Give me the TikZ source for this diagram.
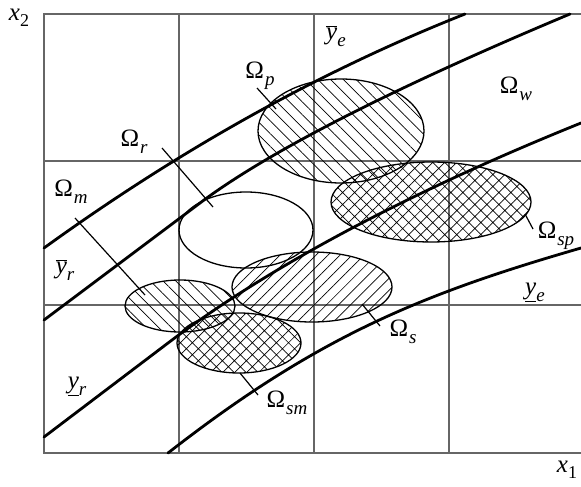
\documentclass[tikz,border=0pt]{standalone}
\usepackage{fontspec}
\setmainfont{Liberation Serif}
\usetikzlibrary{patterns.meta}
\newcommand{\subl}[1]{\raisebox{-7pt}{\fontsize{19}{22}\selectfont\itshape #1}}
\newcommand{\subn}[1]{\raisebox{-6pt}{\fontsize{18}{22}\selectfont #1}}
\newcommand{\Om}[1]{Ω\kern1pt\subl{#1}}
\newcommand{\ybar}{$\overline{\hbox{\itshape y}}$}
\newcommand{\yund}{\underline{\itshape y}}
\begin{document}
\begin{tikzpicture}[x=1pt,y=-1pt,
  grid/.style={draw=black!60, line width=1.2pt},
  curve/.style={line width=2.8pt, line cap=round},
  region/.style={line width=1.3pt},
  lbl/.style={inner sep=0pt, font=\fontsize{25}{28}\selectfont},
  leader/.style={line width=1.2pt},
  backhatch/.style={pattern={Lines[angle=-45,distance=9pt,line width=0.7pt]}},
  fwdhatch/.style={pattern={Lines[angle=45,distance=8.5pt,line width=0.7pt]}},
  crosshatch/.style={pattern={Hatch[angle=45,distance=8.5pt,line width=0.7pt]}}]
\useasboundingbox (0,0) rectangle (581,487);
% grid
\draw[grid] (581,14) -- (44,14) -- (44,453) -- (581,453);
\foreach \x in {179,314,449} \draw[grid] (\x,14) -- (\x,453);
\foreach \y in {161,305} \draw[grid] (44,\y) -- (581,\y);
% regions
\path[backhatch] (341,131) ellipse [x radius=83, y radius=52];
\draw[region] (341,131) ellipse [x radius=83, y radius=52];
\path[crosshatch] (431,202) ellipse [x radius=100, y radius=40];
\draw[region] (431,202) ellipse [x radius=100, y radius=40];
\draw[region] (246,230) ellipse [x radius=67, y radius=38];
\path[fwdhatch] (312,287) ellipse [x radius=80, y radius=35];
\draw[region] (312,287) ellipse [x radius=80, y radius=35];
\path[backhatch] (180,306) ellipse [x radius=55, y radius=26];
\draw[region] (180,306) ellipse [x radius=55, y radius=26];
\path[crosshatch] (239,343) ellipse [x radius=62, y radius=30];
\draw[region] (239,343) ellipse [x radius=62, y radius=30];
% boundary curves
\draw[curve] (44,248) .. controls (181,149) and (321,71) .. (465,14);
\draw[curve] (44,320) -- (200,203) .. controls (268,152) and (391,89) .. (570,14);
\draw[curve] (44,437) -- (172,340) .. controls (274,264) and (410,192) .. (581,123);
\draw[curve] (168,453) .. controls (318,336) and (422,294) .. (581,248);
% labels
\node[lbl] (x2) at (19,18) {\textit{x}\subn{2}};
\node[lbl] (x1) at (567,470) {\textit{x}\subn{1}};
\node[lbl] (ye) at (336,36) {\ybar\subl{e}};
\node[lbl] (yr) at (65,270) {\ybar\subl{r}};
\node[lbl] (ye2) at (535,292) {\yund\subl{e}};
\node[lbl] (yr2) at (77,386) {\yund\subl{r}};
\node[lbl] (Op) at (260,76) {\Om{p}};
\node[lbl] (Or) at (134,142) {\Om{r}};
\node[lbl] (Om) at (71,192) {\Om{m}};
\node[lbl] (Ow) at (516,89) {\Om{w}};
\node[lbl] (Osp) at (556,236) {\Om{sp}};
\node[lbl] (Os) at (403,332) {\Om{s}};
\node[lbl] (Osm) at (287,403) {\Om{sm}};
% leaders
\coordinate (p1) at (257,88);  \coordinate (p2) at (276,109);
\coordinate (r1) at (162,148); \coordinate (r2) at (213,207);
\coordinate (m1) at (75,218);  \coordinate (m2) at (145,295);
\coordinate (s1) at (362,304); \coordinate (s2) at (380,326);
\coordinate (sp1) at (525,214); \coordinate (sp2) at (533,229);
\coordinate (sm1) at (240,373); \coordinate (sm2) at (258,395);
\draw[leader] (p1) -- (p2);
\draw[leader] (r1) -- (r2);
\draw[leader] (m1) -- (m2);
\draw[leader] (s1) -- (s2);
\draw[leader] (sp1) -- (sp2);
\draw[leader] (sm1) -- (sm2);
\end{tikzpicture}
\end{document}
